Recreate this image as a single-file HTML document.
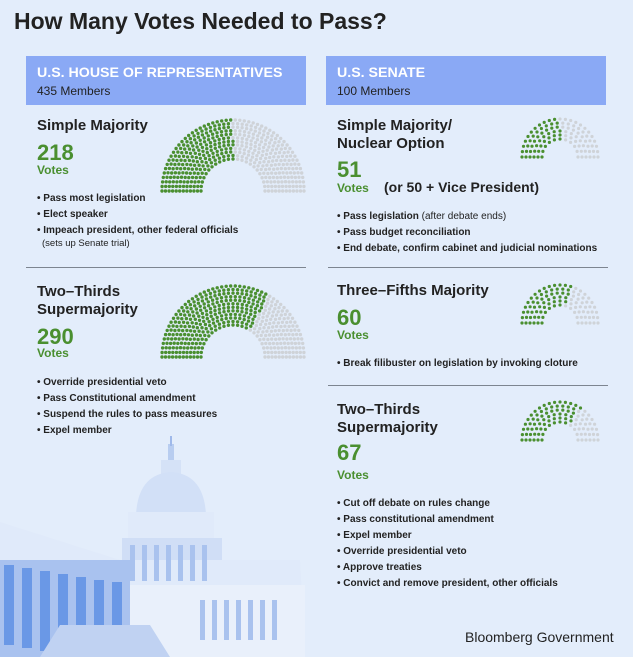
<!DOCTYPE html>
<html><head><meta charset="utf-8"><style>
body{margin:0;width:633px;height:657px;background:#e3edfb;font-family:"Liberation Sans",sans-serif;color:#222;position:relative;overflow:hidden}
.a{position:absolute;white-space:nowrap;line-height:1}
.t{font-weight:bold}
.hb{position:absolute;background:#8aa9f5;height:49px;top:56px}
.g{color:#4a8f30;font-weight:bold}
.b{font-size:10px;font-weight:bold}
.s{font-weight:normal}
.ln{position:absolute;height:1px;background:#7d8590}
</style></head><body>
<svg width="633" height="657" style="position:absolute;left:0;top:0">
<g id="cap">
<rect x="168" y="444" width="6" height="20" fill="#b8cdf0"/>
<rect x="170" y="436" width="2" height="10" fill="#9fb9ea"/>
<rect x="161" y="460" width="20" height="20" fill="#d5e2f7"/>
<path d="M136 515 Q138 474 171 472 Q204 474 206 515Z" fill="#d2e0f7"/>
<rect x="128" y="512" width="86" height="28" fill="#e0eafa"/>
<rect x="122" y="538" width="100" height="44" fill="#d0def6"/>
<path d="M0 522 L120 560 L300 560 L305 657 L0 657Z" fill="#e0eafa"/>
<rect x="0" y="560" width="130" height="97" fill="#a9c2ef"/>
<g fill="#6a98e6">
<rect x="4" y="565" width="10" height="80"/><rect x="22" y="568" width="10" height="80"/><rect x="40" y="571" width="10" height="80"/><rect x="58" y="574" width="10" height="75"/><rect x="76" y="577" width="10" height="70"/><rect x="94" y="580" width="10" height="65"/><rect x="112" y="582" width="10" height="60"/>
</g>
<rect x="130" y="585" width="175" height="72" fill="#e9f0fb"/>
<g fill="#a9c2ee"><rect x="200" y="600" width="5" height="40"/><rect x="212" y="600" width="5" height="40"/><rect x="224" y="600" width="5" height="40"/><rect x="236" y="600" width="5" height="40"/><rect x="248" y="600" width="5" height="40"/><rect x="260" y="600" width="5" height="40"/><rect x="272" y="600" width="5" height="40"/></g>
<g fill="#a9c2ee"><rect x="130" y="545" width="5" height="36"/><rect x="142" y="545" width="5" height="36"/><rect x="154" y="545" width="5" height="36"/><rect x="166" y="545" width="5" height="36"/><rect x="178" y="545" width="5" height="36"/><rect x="190" y="545" width="5" height="36"/><rect x="202" y="545" width="5" height="36"/></g>
<path d="M40 657 L60 625 L150 625 L170 657Z" fill="#c0d2f2"/>
</g>
<g id="dots"></g>
</svg>
<div class="a t" style="left:14px;top:10px;font-size:23px">How Many Votes Needed to Pass?</div>

<div class="hb" style="left:26px;width:280px"></div>
<div class="hb" style="left:326px;width:280px"></div>
<div class="a t" style="left:37px;top:66px;font-size:14.2px;color:#fff">U.S. HOUSE OF REPRESENTATIVES</div>
<div class="a" style="left:37px;top:85px;font-size:12px">435 Members</div>
<div class="a t" style="left:337px;top:66px;font-size:14.2px;color:#fff">U.S. SENATE</div>
<div class="a" style="left:337px;top:85px;font-size:12px">100 Members</div>

<div class="a t" style="left:37px;top:118px;font-size:15px">Simple Majority</div>
<div class="a g" style="left:37px;top:142px;font-size:22px">218</div>
<div class="a g" style="left:37px;top:164px;font-size:12px">Votes</div>
<div class="a b" style="left:37px;top:194px">• Pass most legislation</div>
<div class="a b" style="left:37px;top:210px">• Elect speaker</div>
<div class="a b" style="left:37px;top:226px">• Impeach president, other federal officials</div>
<div class="a" style="left:42px;top:239px;font-size:9.5px">(sets up Senate trial)</div>
<div class="ln" style="left:26px;top:267px;width:280px"></div>

<div class="a t" style="left:37px;top:284px;font-size:15px">Two–Thirds</div>
<div class="a t" style="left:37px;top:302px;font-size:15px">Supermajority</div>
<div class="a g" style="left:37px;top:326px;font-size:22px">290</div>
<div class="a g" style="left:37px;top:347px;font-size:12px">Votes</div>
<div class="a b" style="left:37px;top:378px">• Override presidential veto</div>
<div class="a b" style="left:37px;top:394px">• Pass Constitutional amendment</div>
<div class="a b" style="left:37px;top:410px">• Suspend the rules to pass measures</div>
<div class="a b" style="left:37px;top:426px">• Expel member</div>

<div class="a t" style="left:337px;top:118px;font-size:15px">Simple Majority/</div>
<div class="a t" style="left:337px;top:136px;font-size:15px">Nuclear Option</div>
<div class="a g" style="left:337px;top:159px;font-size:22px">51</div>
<div class="a g" style="left:337px;top:182px;font-size:12px">Votes</div>
<div class="a t" style="left:384px;top:180px;font-size:14px">(or 50 + Vice President)</div>
<div class="a b" style="left:337px;top:212px">• Pass legislation <span class="s">(after debate ends)</span></div>
<div class="a b" style="left:337px;top:228px">• Pass budget reconciliation</div>
<div class="a b" style="left:337px;top:244px">• End debate, confirm cabinet and judicial nominations</div>
<div class="ln" style="left:328px;top:267px;width:280px"></div>

<div class="a t" style="left:337px;top:283px;font-size:15px">Three–Fifths Majority</div>
<div class="a g" style="left:337px;top:307px;font-size:22px">60</div>
<div class="a g" style="left:337px;top:329px;font-size:12px">Votes</div>
<div class="a b" style="left:337px;top:359px">• Break filibuster on legislation by invoking cloture</div>
<div class="ln" style="left:328px;top:385px;width:280px"></div>

<div class="a t" style="left:337px;top:402px;font-size:15px">Two–Thirds</div>
<div class="a t" style="left:337px;top:420px;font-size:15px">Supermajority</div>
<div class="a g" style="left:337px;top:442px;font-size:22px">67</div>
<div class="a g" style="left:337px;top:469px;font-size:12px">Votes</div>
<div class="a b" style="left:337px;top:499px">• Cut off debate on rules change</div>
<div class="a b" style="left:337px;top:515px">• Pass constitutional amendment</div>
<div class="a b" style="left:337px;top:531px">• Expel member</div>
<div class="a b" style="left:337px;top:547px">• Override presidential veto</div>
<div class="a b" style="left:337px;top:563px">• Approve treaties</div>
<div class="a b" style="left:337px;top:579px">• Convict and remove president, other officials</div>

<div class="a" style="left:465px;top:630px;font-size:14px;color:#222">Bloomberg Government</div>
<script>
function parl(cx,cy,ri,ro,rows,total,green,dr){
  var radii=[],sum=0;
  for(var i=0;i<rows;i++){var r=ri+(ro-ri)*i/(rows-1);radii.push(r);sum+=r;}
  var pts=[],left=total;
  for(var i=0;i<rows;i++){
    var n=(i==rows-1)?left:Math.round(total*radii[i]/sum);left-=n;
    for(var j=0;j<n;j++){var a=Math.PI*(1-j/(n-1));pts.push([a,cx+radii[i]*Math.cos(a),cy-radii[i]*Math.sin(a)]);}
  }
  pts.sort(function(p,q){return q[0]-p[0];});
  var s='';
  pts.forEach(function(p,k){s+='<circle cx="'+p[1].toFixed(1)+'" cy="'+p[2].toFixed(1)+'" r="'+dr+'" fill="'+(k<green?'#4a8f30':'#cfd3d8')+'"/>';});
  return s;
}
var h='';
h+=parl(233,191,32,71,12,435,218,1.7);
h+=parl(233,357,32,71,12,435,290,1.7);
h+=parl(560,157,18,38,6,100,51,1.6);
h+=parl(560,323,18,38,6,100,60,1.6);
h+=parl(560,440,18,38,6,100,67,1.6);
document.getElementById('dots').innerHTML=h;
</script>
</body></html>
